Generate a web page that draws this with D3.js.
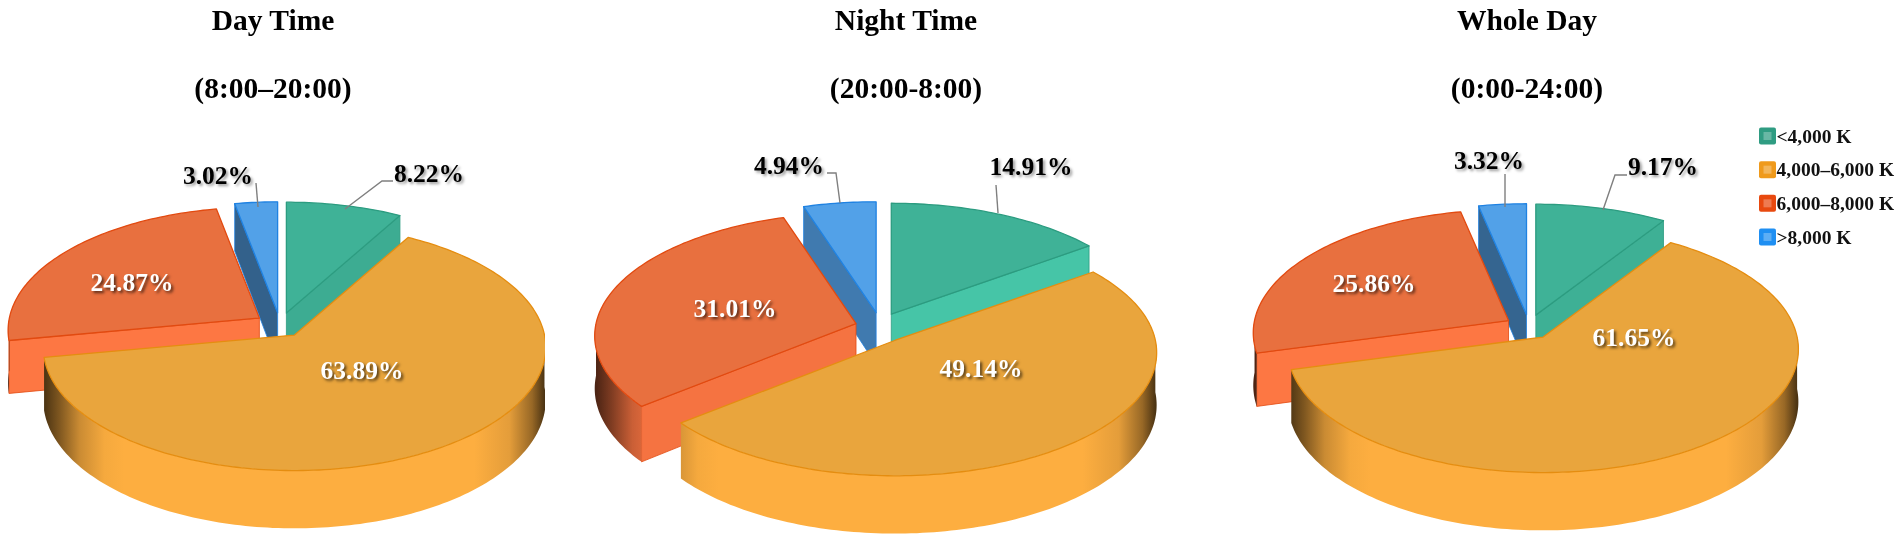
<!DOCTYPE html>
<html>
<head>
<meta charset="utf-8">
<script src="https://cdn.jsdelivr.net/npm/d3@7"></script>
<style>
  html, body { margin: 0; padding: 0; background: #fff; }
  svg { display: block; filter: blur(0.35px); }
  text { font-family: "Liberation Serif", serif; font-weight: bold; }
  .lbl-in  { fill: #fff; font-size: 25.5px; text-shadow: 2px 2px 3px rgba(0,0,0,.65); }
  .lbl-out { fill: #000; font-size: 25.5px; text-shadow: 2px 2px 3px rgba(0,0,0,.4); }
  .title   { fill: #000; font-size: 29.5px; }
  .legend  { fill: #111; font-size: 19.5px; }
</style>
</head>
<body>
<svg id="chart" width="1902" height="543"></svg>
<script>
// data
var categories  = ["<4,000 K", "4,000–6,000 K", "6,000–8,000 K", ">8,000 K"];
var dayValues   = [8.22, 63.89, 24.87, 3.02];
var nightValues = [14.91, 49.14, 31.01, 4.94];
var wholeValues = [9.17, 61.65, 25.86, 3.32];
var titleLines  = [["Day Time", "(8:00–20:00)"], ["Night Time", "(20:00-8:00)"], ["Whole Day", "(0:00-24:00)"]];

var topColors  = ["#3fb297", "#e9a53d", "#e8703f", "#52a1e8"];
var wallColors = ["#47c9aa", "#fdae40", "#fd7743", "#58a8f0"];
var rimColors  = ["#2c9c80", "#e58d10", "#e24a10", "#1f82e2"];
var swatches   = ["#2f9c82", "#ef9a1c", "#e8490f", "#1f8ff2"];

// 3D layout of each pie: centre, radii, explosion, and where the text goes
// labels are in value order: <4000, 4000-6000, 6000-8000, >8000
var panels = [
  { values: dayValues, cx: 280, cy: 325, rx: 250, ry: 122, ex: 25, ey: 12.3, clipRight: 545, titleX: 273,
    labels: [[429,173],[362,370],[132,282],[218,175]],
    leaders: [[[345,209],[382,181],[393,181]], [[258,207],[256,183]]] },
  { values: nightValues, cx: 880, cy: 328, rx: 260, ry: 122, ex: 25, ey: 15.5, clipRight: 1902, titleX: 906,
    labels: [[1031,166],[981,368],[735,308],[789,165]],
    leaders: [[[998,213],[996,185]], [[840,203],[836,173],[827,173]]] },
  { values: wholeValues, cx: 1529, cy: 327, rx: 254, ry: 122, ex: 24, ey: 12.4, clipRight: 1902, titleX: 1527,
    labels: [[1663,166],[1634,337],[1374,283],[1489,160]],
    leaders: [[[1603,210],[1615,175],[1627,175]], [[1505,207],[1505,174]]] }
];

var drawOrder = [0, 3, 2, 1];   // back to front
var persp = 0.1, depth = 52;

var svg = d3.select("#chart");
var defs = svg.append("defs");
var lineGen = d3.line();

var pie = d3.pie().sort(null).startAngle(0).endAngle(2 * Math.PI);

// how bright a cut wall is, from how much it faces the viewer
var wallLight = d3.scaleLinear().domain([0.19, 0.33, 0.5, 0.85]).range([0.58, 0.76, 0.86, 1]).clamp(true);

function project(tx, ty, p, theta, z) {
  var X = Math.sin(theta), Y = -Math.cos(theta);
  var s = 1 / (1 - persp * Y);
  return [tx + p.rx * X * s, ty + p.ry * Y * s + z * s];
}

function arcPoints(tx, ty, p, a0, a1, z) {
  var n = Math.max(2, Math.ceil((a1 - a0) / 0.02));
  return d3.range(n + 1).map(function(i) {
    return project(tx, ty, p, a0 + (a1 - a0) * i / n, z);
  });
}

panels.forEach(function(p, pi) {
  var clipId = "clip" + pi;
  defs.append("clipPath").attr("id", clipId).append("rect")
      .attr("x", 0).attr("y", 0).attr("width", p.clipRight).attr("height", 543);

  var g = svg.append("g").attr("clip-path", "url(#" + clipId + ")");
  var arcs = pie(p.values);

  drawOrder.forEach(function(i) {
    var a = arcs[i], a0 = a.startAngle, a1 = a.endAngle, mid = (a0 + a1) / 2;
    var tx = p.cx + p.ex * Math.sin(mid), ty = p.cy - p.ey * Math.cos(mid);
    var tipTop = [tx, ty], tipBot = [tx, ty + depth];
    var base = wallColors[i];

    // the two cut walls, only if they face us
    [[a0, Math.sin(a0) < -0.01], [a1, Math.sin(a1) > 0.01]].forEach(function(w) {
      if (!w[1]) return;
      var oTop = project(tx, ty, p, w[0], 0), oBot = project(tx, ty, p, w[0], depth);
      var col = d3.interpolateRgb("#000", base)(wallLight(Math.abs(Math.sin(w[0]))));
      g.append("path").attr("d", lineGen([tipTop, oTop, oBot, tipBot]) + "Z")
       .attr("fill", col).attr("stroke", rimColors[i]).attr("stroke-width", 0.8);
    });

    // outer wall, front half only
    var f0 = Math.max(a0, Math.PI / 2), f1 = Math.min(a1, 3 * Math.PI / 2);
    if (f1 > f0) {
      var gid = "side" + pi + "_" + i;
      var grad = defs.append("linearGradient").attr("id", gid)
          .attr("gradientUnits", "userSpaceOnUse")
          .attr("x1", tx - p.rx).attr("x2", tx + p.rx).attr("y1", 0).attr("y2", 0);
      var dark = d3.interpolateRgb("#000", base);
      [[0, 0.3], [0.03, 0.5], [0.07, 0.8], [0.12, 0.97], [0.16, 1], [0.86, 1], [0.93, 0.9], [0.975, 0.6], [1, 0.3]]
        .forEach(function(s) { grad.append("stop").attr("offset", s[0]).attr("stop-color", dark(s[1])); });
      var topEdge = arcPoints(tx, ty, p, f0, f1, 0);
      var botEdge = arcPoints(tx, ty, p, f0, f1, depth).reverse();
      g.append("path").attr("d", lineGen(topEdge.concat(botEdge)) + "Z")
       .attr("fill", "url(#" + gid + ")").attr("stroke", "none");
    }

    // top face
    var face = [tipTop].concat(arcPoints(tx, ty, p, a0, a1, 0));
    g.append("path").attr("d", lineGen(face) + "Z")
     .attr("fill", topColors[i]).attr("stroke", rimColors[i]).attr("stroke-width", 1.3)
     .attr("stroke-linejoin", "round");
  });

  // leader lines for the two small slices
  p.leaders.forEach(function(l) {
    svg.append("path").attr("d", lineGen(l)).attr("fill", "none")
       .attr("stroke", "#7f7f7f").attr("stroke-width", 1.4);
  });

  // value labels; the two outside ones are black
  var fmt = d3.format(".2f");
  p.values.forEach(function(v, i) {
    var outside = (i === 0 || i === 3);
    svg.append("text").attr("class", outside ? "lbl-out" : "lbl-in")
       .attr("x", p.labels[i][0]).attr("y", p.labels[i][1]).attr("dy", "0.34em")
       .attr("text-anchor", "middle").text(fmt(v) + "%");
  });

  // title, two lines
  svg.append("text").attr("class", "title").attr("x", p.titleX).attr("y", 20).attr("dy", "0.34em")
     .attr("text-anchor", "middle").text(titleLines[pi][0]);
  svg.append("text").attr("class", "title").attr("x", p.titleX).attr("y", 88).attr("dy", "0.34em")
     .attr("text-anchor", "middle").text(titleLines[pi][1]);
});

// legend
var legendY = d3.scalePoint().domain(categories).range([136, 237]);
var legend = svg.append("g");
categories.forEach(function(c, i) {
  var y = legendY(c);
  legend.append("rect").attr("x", 1759).attr("y", y - 8.5).attr("width", 17).attr("height", 17).attr("rx", 2).attr("fill", swatches[i]);
  legend.append("rect").attr("x", 1763.5).attr("y", y - 4).attr("width", 8).attr("height", 8)
        .attr("fill", "#fff").attr("fill-opacity", 0.28);
  legend.append("text").attr("class", "legend").attr("x", 1776.5).attr("y", y).attr("dy", "0.34em").text(c);
});
</script>
</body>
</html>
